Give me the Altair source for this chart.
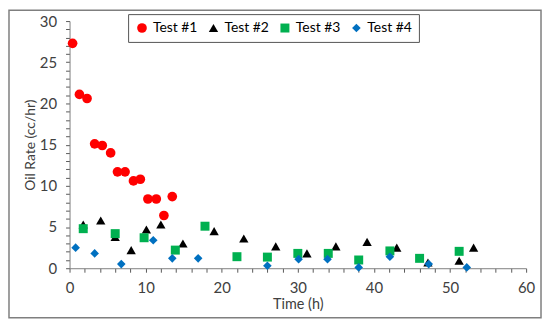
import altair as alt
import pandas as pd

tests = ["Test #1", "Test #2", "Test #3", "Test #4"]

t1_time = [0.4, 1.3, 2.3, 3.3, 4.3, 5.4, 6.3, 7.3, 8.4, 9.3, 10.3, 11.4, 12.4, 13.5]
t1_rate = [27.3, 21.1, 20.6, 15.1, 14.9, 14.0, 11.7, 11.7, 10.6, 10.8, 8.4, 8.4, 6.4, 8.7]

t2_time = [1.8, 4.1, 6.0, 8.1, 10.1, 12.0, 14.9, 19.0, 22.9, 27.1, 31.2, 35.0, 39.1, 43.0, 47.1, 51.2, 53.1]
t2_rate = [5.3, 5.8, 3.8, 2.2, 4.7, 5.3, 3.0, 4.5, 3.6, 2.65, 1.8, 2.65, 3.2, 2.5, 0.7, 0.9, 2.5]

t3_time = [1.8, 6.0, 9.8, 13.9, 17.8, 22.0, 26.0, 30.0, 34.0, 38.0, 42.1, 46.0, 51.2]
t3_rate = [4.8, 4.2, 3.7, 2.2, 5.1, 1.4, 1.35, 1.8, 1.8, 1.0, 2.1, 1.2, 2.05]

t4_time = [0.8, 3.3, 6.8, 11.0, 13.5, 16.9, 26.0, 30.1, 33.9, 38.0, 42.1, 47.2, 52.2]
t4_rate = [2.5, 1.8, 0.5, 3.4, 1.2, 1.2, 0.3, 1.1, 1.1, 0.1, 1.4, 0.5, 0.1]

x_label_step = 10
x_ticks = list(range(0, 61, 2))
y_label_step = 5
y_ticks = list(range(0, 31, 1))

rows = []
for name, tt, rr in zip(tests, [t1_time, t2_time, t3_time, t4_time], [t1_rate, t2_rate, t3_rate, t4_rate]):
    for a, b in zip(tt, rr):
        rows.append({"Test": name, "Time": a, "Rate": b})
df = pd.DataFrame(rows)

FONT = "Lato"
FS = 15
AX = "#7f7f7f"
TK = "#595959"
xscale = alt.Scale(domain=[0, 60], nice=False, zero=True)
yscale = alt.Scale(domain=[0, 30], nice=False, zero=True)

points = alt.Chart(df).mark_point(filled=True, opacity=1).encode(
    x=alt.X("Time:Q", scale=xscale, title="Time (h)",
            axis=alt.Axis(orient="bottom", values=x_ticks, ticks=True, tickSize=4, tickColor=TK,
                          labelExpr=f"datum.value % {x_label_step} == 0 ? datum.label : ''",
                          grid=False, labelPadding=8, titlePadding=3, domainColor=AX,
                          labelFontSize=FS, titleFontSize=14.5, labelFont=FONT, titleFont=FONT,
                          labelColor="#404040", titleColor="#404040", titleFontWeight="normal",
                          labelFlush=False, labelOverlap=False)),
    y=alt.Y("Rate:Q", scale=yscale, title="Oil Rate (cc/hr)",
            axis=alt.Axis(orient="left", values=y_ticks, ticks=True, tickSize=4, tickColor=TK,
                          labelExpr=f"datum.value % {y_label_step} == 0 ? datum.label : ''",
                          grid=False, labelPadding=9, titlePadding=2, domainColor=AX,
                          labelFontSize=FS, titleFontSize=14, labelFont=FONT, titleFont=FONT,
                          labelColor="#404040", titleColor="#404040", titleFontWeight="normal",
                          labelOverlap=False)),
    color=alt.Color("Test:N", scale=alt.Scale(domain=tests, range=["#FF0000", "#000000", "#00B050", "#0070C0"]),
                    legend=alt.Legend(title=None, orient="none", legendX=59, legendY=-7,
                                      direction="horizontal", columns=4, padding=7,
                                      strokeColor="#555555", labelFontSize=14, labelFont=FONT,
                                      labelColor="#000000", symbolSize=60, columnPadding=9,
                                      labelOffset=4, symbolStrokeWidth=0)),
    shape=alt.Shape("Test:N", scale=alt.Scale(domain=tests, range=["circle", "triangle-up", "square", "diamond"])),
    size=alt.Size("Test:N", scale=alt.Scale(domain=tests, range=[95, 75, 50, 55]), legend=None),
)

frame = alt.Chart(pd.DataFrame({"a": [0]})).mark_rect(fill=None, stroke="#7f7f7f", strokeWidth=1.5).encode(
    x=alt.value(-61), x2=alt.value(475), y=alt.value(-11), y2=alt.value(299)
)

chart = alt.layer(points, frame).properties(
    width=460, height=249,
    autosize=alt.AutoSizeParams(type="none"),
    padding={"left": 62, "top": 12, "right": 16, "bottom": 52},
).configure_view(stroke=None)

chart.save("out.html", embed_options={"renderer": "svg", "actions": False})
